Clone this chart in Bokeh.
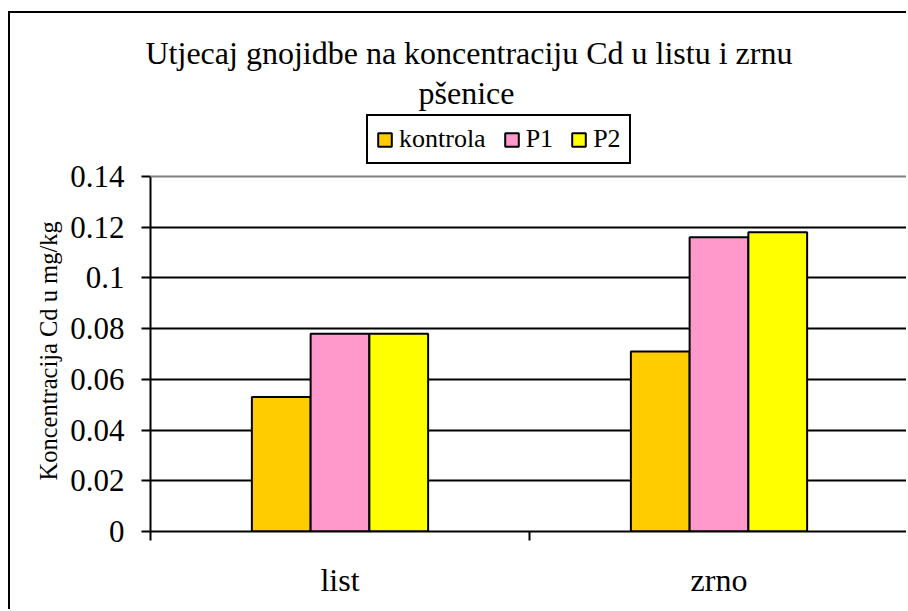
from bokeh.plotting import figure
from bokeh.models import (ColumnDataSource, Range1d, LinearAxis,
                          FixedTicker, CustomJSTickFormatter, Legend, LegendItem, Title, Span)
from bokeh.transform import dodge
from bokeh.embed import file_html
from bokeh.resources import INLINE

# ---- data ----
categories = ["list", "zrno"]
series_names = ["kontrola", "P1", "P2"]
kontrola = [0.053, 0.071]
p1 = [0.078, 0.116]
p2 = [0.078, 0.118]
series_colors = ["#FFCC00", "#FF99CC", "#FFFF00"]
y_ticks = [0, 0.02, 0.04, 0.06, 0.08, 0.1, 0.12, 0.14]
y_tick_labels = ["0", "0.02", "0.04", "0.06", "0.08", "0.1", "0.12", "0.14"]
title_line1 = "Utjecaj gnojidbe na koncentraciju Cd u listu i zrnu"
title_line2 = "pšenice"
y_label = "Koncentracija Cd u mg/kg"

FONT = "Liberation Serif"

cat_pos = [i + 0.5 for i in range(len(categories))]      # category centres
cat_bounds = [float(i) for i in range(len(categories))]  # category boundaries (tick marks)
source = ColumnDataSource(data=dict(x=cat_pos, kontrola=kontrola, P1=p1, P2=p2))

# frame is extended above the axis maximum to hold the legend
y_view_top = y_ticks[-1] * 418 / 355

p = figure(width=898, height=598, x_range=Range1d(0, len(categories)), y_range=Range1d(0, y_view_top),
           output_backend="svg", toolbar_location=None, x_axis_location=None, title=None,
           min_border_left=140, min_border_right=0, min_border_top=100, min_border_bottom=80)
p.styles = {"margin-top": "11px", "margin-left": "8px",
            "border-top": "2px solid black", "border-left": "2px solid black"}
p.background_fill_color = "white"
p.border_fill_color = "white"
p.outline_line_color = None
p.xgrid.visible = False

bar_w = 0.155
offsets = [-bar_w, 0.0, bar_w]
renderers = []
for name, off, col in zip(series_names, offsets, series_colors):
    r = p.vbar(x=dodge("x", off), top=name, width=bar_w, source=source,
               fill_color=col, line_color="black", line_width=2)
    renderers.append(r)

# grid
p.ygrid.ticker = FixedTicker(ticks=y_ticks[1:-1])
p.ygrid.grid_line_color = "black"
p.ygrid.grid_line_width = 2
p.add_layout(Span(location=y_ticks[-1], dimension="width", line_color="#808080", line_width=2))

# y axis
ya = p.yaxis[0]
ya.ticker = FixedTicker(ticks=y_ticks)
ya.bounds = (y_ticks[0], y_ticks[-1])
ya.formatter = CustomJSTickFormatter(args=dict(labels=y_tick_labels), code="return labels[index];")
ya.major_tick_out = 9
ya.major_tick_in = 0
ya.minor_tick_out = 0
ya.minor_tick_in = 0
ya.major_tick_line_width = 2
ya.axis_line_width = 2
ya.major_label_text_font = FONT
ya.major_label_text_font_size = "31px"
ya.major_label_text_color = "black"
ya.major_label_standoff = 17

# y axis title, placed beside the axis and aligned to the 0..0.14 part of the frame
p.add_layout(Title(text=y_label, align="left", offset=51, text_font=FONT,
                   text_font_size="24.5px", text_font_style="normal", text_color="black",
                   standoff=12), "left")

# x axis: tick marks at category boundaries, labels at category centres
tick_axis = LinearAxis(ticker=FixedTicker(ticks=cat_bounds),
                       formatter=CustomJSTickFormatter(code="return '';"),
                       major_tick_out=9, major_tick_in=0, minor_tick_out=0, minor_tick_in=0,
                       major_tick_line_width=2, axis_line_width=2,
                       major_label_text_font_size="1px", major_label_standoff=0)
p.add_layout(tick_axis, "below")
cat_axis = LinearAxis(ticker=FixedTicker(ticks=cat_pos),
                      formatter=CustomJSTickFormatter(args=dict(labels=categories), code="return labels[index];"),
                      axis_line_color=None, major_tick_line_color=None, minor_tick_line_color=None,
                      major_label_text_font=FONT, major_label_text_font_size="32px",
                      major_label_text_color="black", major_label_standoff=15)
p.add_layout(cat_axis, "below")

# legend (inside the extended frame, above the 0.14 line)
legend = Legend(items=[LegendItem(label=n, renderers=[r]) for n, r in zip(series_names, renderers)],
                orientation="horizontal", location=(216, 367),
                border_line_color="black", border_line_width=2, border_line_alpha=1.0,
                background_fill_color="white",
                padding=8, spacing=17, label_standoff=6, glyph_width=17, glyph_height=17,
                label_text_font=FONT, label_text_font_size="26px", label_text_color="black",
                label_height=29, margin=0)
p.add_layout(legend)

# titles (later added = further from the plot)
p.add_layout(Title(text=title_line2, align="left", offset=268, text_font=FONT,
                   text_font_size="32px", text_font_style="normal", text_color="black",
                   standoff=5), "above")
p.add_layout(Title(text=title_line1, align="left", offset=-5, text_font=FONT,
                   text_font_size="32px", text_font_style="normal", text_color="black",
                   standoff=0), "above")

open("out.html", "w").write(file_html(p, INLINE))
